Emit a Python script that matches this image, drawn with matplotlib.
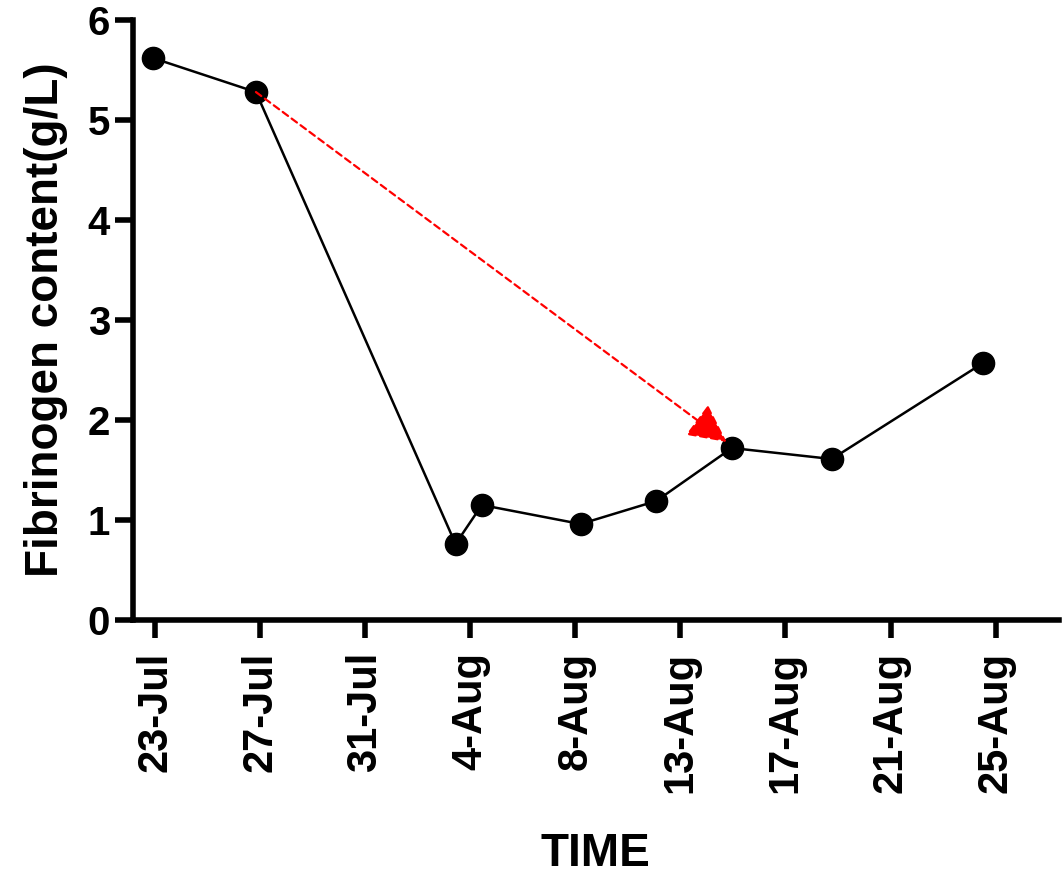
import matplotlib
matplotlib.use("Agg")
import matplotlib.pyplot as plt

tick_labels = ["23-Jul", "27-Jul", "31-Jul", "4-Aug", "8-Aug", "13-Aug", "17-Aug", "21-Aug", "25-Aug"]
x_pos = [-0.02, 0.96, 2.86, 3.11, 4.05, 4.77, 5.49, 6.44, 7.88]
fib = [5.62, 5.28, 0.76, 1.15, 0.96, 1.19, 1.72, 1.61, 2.57]

plt.rcParams["font.family"] = "Liberation Sans"
fig = plt.figure(figsize=(10.64, 8.72), dpi=100)
ax = fig.add_axes([0.125, 0.289, 0.87, 0.688])
ax.plot(x_pos, fib, color="black", lw=1.8, marker="o", ms=16, zorder=3)
ax.annotate("", xy=(x_pos[6] - 0.05, fib[6] + 0.06), xytext=(x_pos[1], fib[1]),
            arrowprops=dict(arrowstyle="-|>,head_length=0.8,head_width=0.4", color="red", lw=1.6,
                            ls=(0, (3, 2)), mutation_scale=30, shrinkA=0, shrinkB=0), zorder=4)
ax.set_xlim(-0.21, 8.6)
ax.set_ylim(0, 6)
ax.set_xticks(range(len(tick_labels)))
ax.set_xticklabels(tick_labels, rotation=90, fontsize=30, fontweight="bold")
ax.set_yticks(range(7))
ax.set_yticklabels([str(i) for i in range(7)], fontsize=29, fontweight="bold")
ax.tick_params(width=4, length=13)
ax.tick_params(axis="x", pad=10)
for s in ["top", "right"]:
    ax.spines[s].set_visible(False)
for s in ["left", "bottom"]:
    ax.spines[s].set_linewidth(4)
ax.set_ylabel("Fibrinogen content(g/L)", fontsize=33, fontweight="bold", labelpad=14)
ax.set_xlabel("TIME", fontsize=33, fontweight="bold", labelpad=28)
fig.savefig("out.png", dpi=100)
